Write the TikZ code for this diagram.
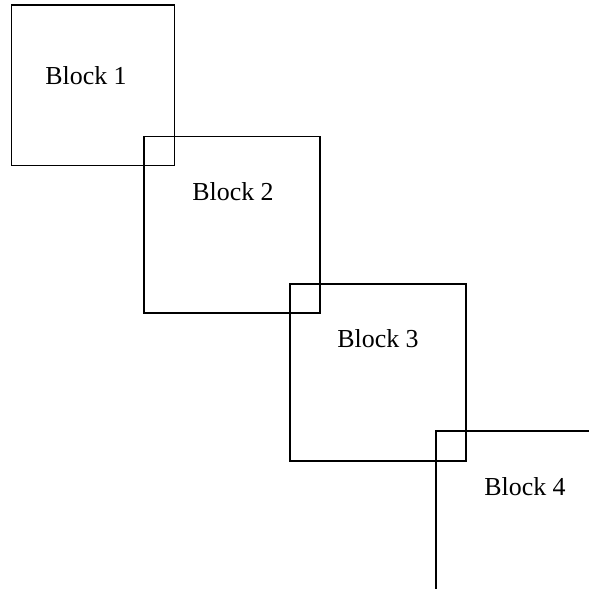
\documentclass[tikz,border=0pt]{standalone}
\usepackage{fontspec}
\setmainfont{Liberation Serif}
\begin{document}
\begin{tikzpicture}[x=1bp,y=-1bp,
  blockedge/.style={draw=black,line width=1.7bp},
  blocklabel/.style={font=\fontsize{26}{30}\selectfont,inner sep=0pt}]
\useasboundingbox (0,0) rectangle (589,589);
\clip (0,0) rectangle (589,589);
\draw[blockedge] (11.5,5) rectangle (174.5,165.5);
\draw[blockedge] (144,136.5) rectangle (320,313);
\draw[blockedge] (290,284) rectangle (466,461);
\draw[blockedge] (436,431) rectangle (620,620);
\node[blocklabel] (l1) at (86,76) {Block 1};
\node[blocklabel] (l2) at (233,192) {Block 2};
\node[blocklabel] (l3) at (378,339) {Block 3};
\node[blocklabel] (l4) at (525,487) {Block 4};
\end{tikzpicture}
\end{document}
